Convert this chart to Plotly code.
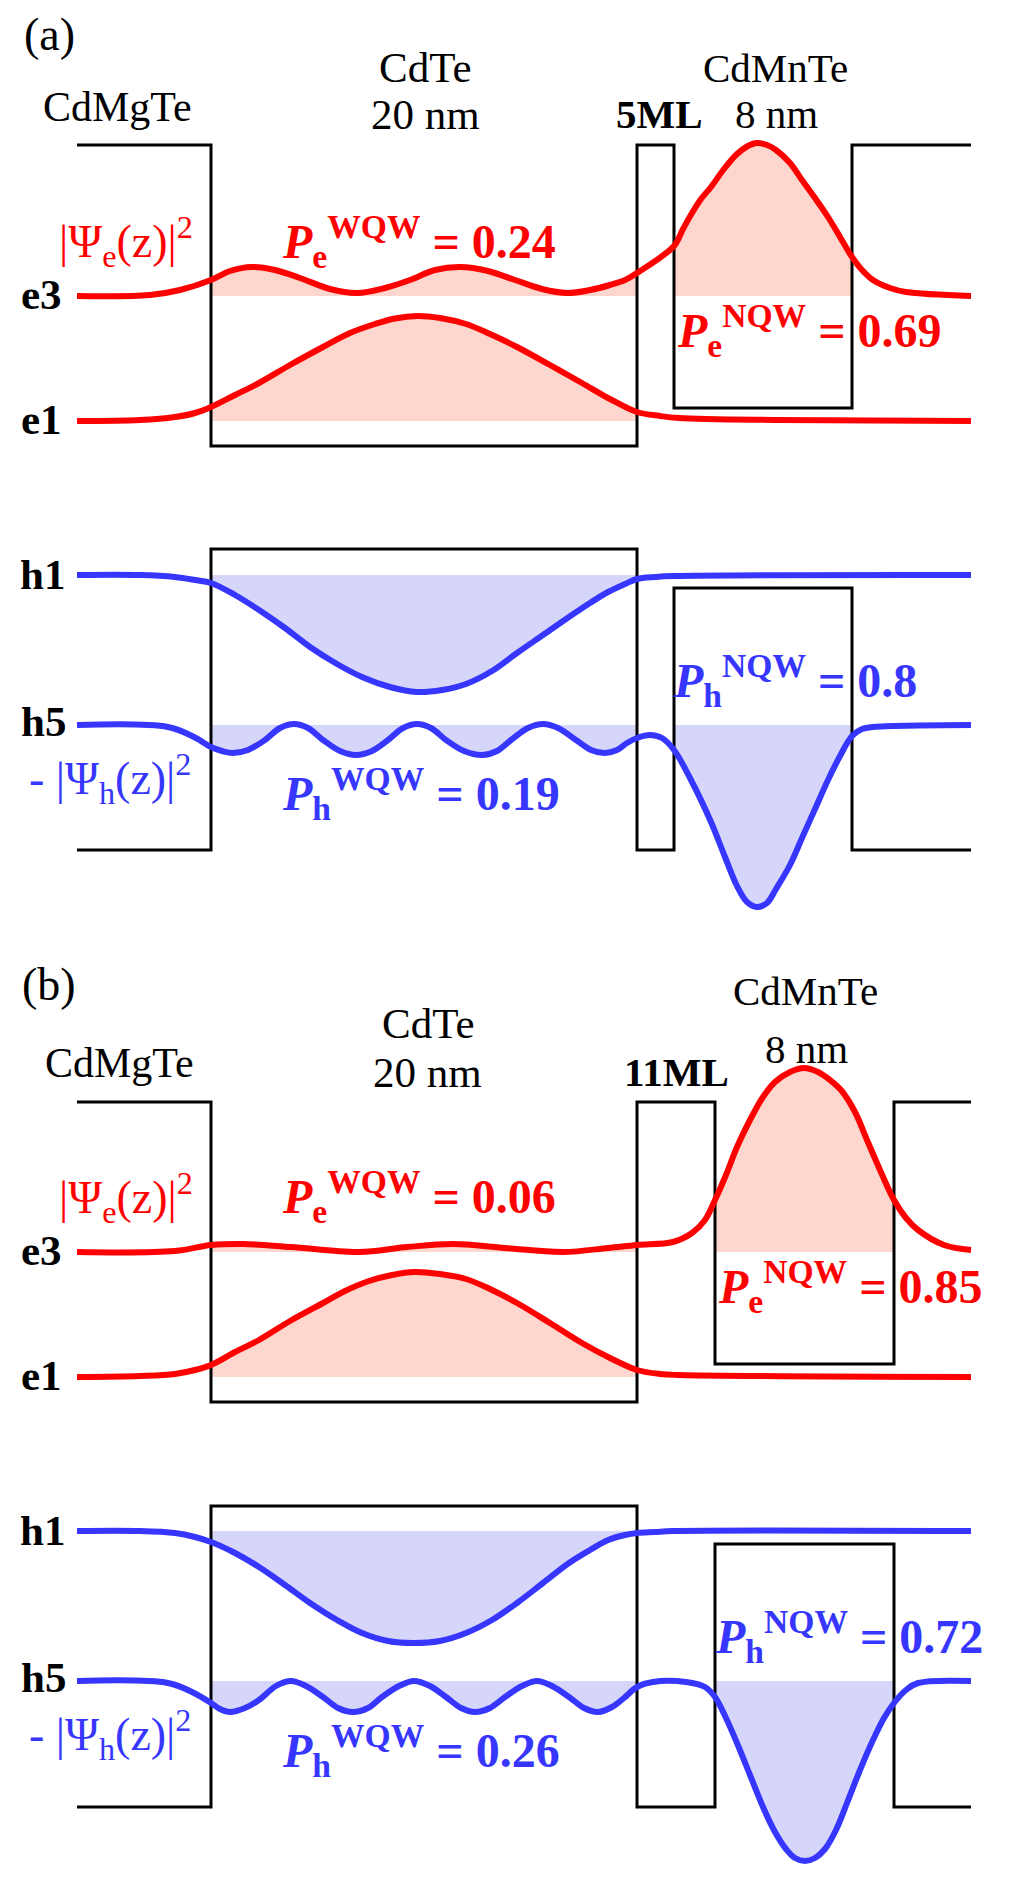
import plotly.graph_objects as go

FONT = "Liberation Serif, Times New Roman, serif"
RED, RED_FILL = "#ff0000", "#fdd6cd"
BLUE, BLUE_FILL = "#3636ff", "#d6d6fa"

# ---------------- layer boundaries along z (axis units) ----------------
Z_A = [77, 211, 637, 674, 852, 971]   # CdMgTe | CdTe | 5ML | CdMnTe | CdMgTe
Z_B = [77, 211, 637, 715, 894, 971]   # CdMgTe | CdTe | 11ML | CdMnTe | CdMgTe

# band edges: [barrier, wide-QW, narrow-QW]   (energy axis units, downward)
A_CB = [145, 446, 408]
A_VB = [850, 549, 588]
B_CB = [1102, 1402, 1364]
B_VB = [1807, 1506, 1544]

# energy levels
A_LEVELS = {"e3": 296, "e1": 421, "h1": 575, "h5": 725}
B_LEVELS = {"e3": 1252, "e1": 1377, "h1": 1531, "h5": 1681}

# ---------------- wavefunction curves (panel a) ----------------
A_E1_Z = [77, 140, 175, 195, 211, 235, 259, 290, 323, 350, 375, 395, 417, 440,
          466, 490, 517, 550, 582, 610, 637, 660, 679, 776, 971]
A_E1_Y = [421, 420, 417, 413, 407, 395, 383, 365, 347, 333, 324, 318.5, 316, 318,
          324, 334, 347, 365, 383, 399, 412, 416, 418, 420, 421]

A_E3_Z = [77, 150, 180, 211, 230, 252, 275, 300, 330, 357, 385, 410, 435, 460,
          488, 515, 542, 567, 590, 610, 625, 637, 674, 683, 692, 701, 711, 724,
          737, 747, 757, 767, 776, 790, 802, 815, 828, 840, 852, 862, 873, 890,
          906, 971]
A_E3_Y = [296, 295, 290, 280, 271, 267, 270, 278, 289, 293, 288, 280, 270, 267,
          271, 280, 289, 293, 290, 285, 280, 273, 246, 229, 213, 199, 187, 169,
          154, 146.5, 143, 145, 150, 163, 180, 198, 217, 237, 257, 270, 280, 288,
          292, 296]

A_H1_Z = [77, 140, 175, 195, 211, 235, 259, 285, 310, 337, 362, 390, 417, 442,
          466, 492, 517, 543, 569, 590, 608, 625, 637, 655, 673, 971]
A_H1_Y = [575, 575, 577, 580, 583, 595, 610, 628, 647, 664, 677, 687, 692, 690,
          684, 671, 653, 635, 617, 603, 592, 584, 579, 577, 576, 575]

A_H5_Z = [77, 168, 194, 211, 222, 233, 248, 265, 280, 294, 308, 323, 340, 356,
          372, 388, 403, 417, 431, 446, 464, 482, 497, 511, 528, 543, 558, 576,
          591, 605, 617, 627, 637, 650, 662, 674, 690, 711, 725, 737, 747, 757,
          767, 776, 790, 802, 815, 828, 840, 852, 862, 873, 971]
A_H5_Y = [725, 727, 737, 747, 751, 753, 750, 740, 728, 724, 728, 740, 751, 755,
          751, 740, 728, 724, 728, 740, 751, 755, 751, 740, 728, 724, 728, 740,
          750, 753, 750, 743, 738, 735, 738, 750, 778, 822, 857, 886, 902, 907,
          903, 889, 865, 838, 809, 780, 756, 736, 729, 727, 725]

# ---------------- wavefunction curves (panel b) ----------------
B_E1_Z = [77, 140, 175, 195, 211, 235, 259, 290, 323, 345, 369, 392, 414, 440,
          466, 490, 517, 550, 582, 610, 637, 660, 679, 971]
B_E1_Y = [1377, 1376, 1374, 1370, 1365, 1352, 1340, 1321, 1303, 1291, 1281, 1275,
          1272, 1274, 1279, 1289, 1303, 1323, 1343, 1358, 1370, 1374, 1375, 1377]

B_E3_Z = [77, 175, 211, 243, 291, 359, 407, 453, 505, 563, 608, 637, 673, 692,
          705, 715, 726, 737, 750, 763, 775, 790, 804, 818, 830, 841, 855, 867,
          880, 894, 906, 918, 944, 971]
B_E3_Y = [1252, 1251, 1245, 1244, 1247, 1252, 1247, 1244, 1248, 1252, 1248, 1245,
          1242, 1233, 1220, 1200, 1175, 1147, 1120, 1097, 1082, 1072, 1068, 1072,
          1080, 1090, 1112, 1140, 1170, 1200, 1218, 1230, 1245, 1250]

B_H1_Z = [77, 140, 175, 195, 211, 235, 259, 285, 310, 337, 362, 388, 413, 440,
          466, 492, 517, 543, 569, 590, 608, 625, 637, 655, 673, 971]
B_H1_Y = [1531, 1531, 1533, 1537, 1542, 1553, 1567, 1585, 1603, 1620, 1633, 1641,
          1643, 1641, 1633, 1620, 1603, 1583, 1563, 1550, 1540, 1535, 1533, 1532,
          1531, 1531]

B_H5_Z = [77, 168, 194, 211, 220, 230, 245, 259, 276, 291, 306, 323, 338, 353,
          368, 382, 399, 414, 430, 446, 461, 475, 490, 505, 522, 537, 552, 569,
          584, 598, 612, 624, 637, 653, 686, 705, 715, 726, 737, 750, 763, 775,
          786, 795, 805, 815, 825, 836, 847, 860, 873, 884, 894, 906, 918, 971]
B_H5_Y = [1681, 1683, 1693, 1703, 1709, 1712, 1708, 1700, 1686, 1681, 1686, 1697,
          1708, 1712, 1708, 1697, 1686, 1681, 1686, 1697, 1708, 1712, 1708, 1697,
          1686, 1681, 1686, 1697, 1708, 1712, 1707, 1698, 1687, 1682, 1682, 1687,
          1697, 1718, 1743, 1775, 1807, 1832, 1849, 1858, 1861, 1858, 1849, 1830,
          1803, 1770, 1740, 1718, 1703, 1690, 1683, 1681]

# probabilities
A_P = {"eW": "0.24", "eN": "0.69", "hW": "0.19", "hN": "0.8"}
B_P = {"eW": "0.06", "eN": "0.85", "hW": "0.26", "hN": "0.72"}

fig = go.Figure()
SMOOTH = 1.0


def fill(zs, ys, level, zl, zr, color):
    pz = [z for z in zs if zl <= z <= zr]
    py = [y for z, y in zip(zs, ys) if zl <= z <= zr]
    fig.add_trace(go.Scatter(x=[zl, zr], y=[level, level], mode="lines",
                             line=dict(width=0, color=color), hoverinfo="skip"))
    fig.add_trace(go.Scatter(x=pz, y=py, mode="lines", fill="tonexty",
                             fillcolor=color,
                             line=dict(width=0, color=color, shape="spline", smoothing=SMOOTH),
                             hoverinfo="skip"))


def band(zb, e):
    bar, w, n = e
    xs = [zb[0], zb[1], zb[1], zb[2], zb[2], zb[3], zb[3], zb[4], zb[4], zb[5]]
    ys = [bar, bar, w, w, bar, bar, n, n, bar, bar]
    fig.add_trace(go.Scatter(x=xs, y=ys, mode="lines",
                             line=dict(color="black", width=3), hoverinfo="skip"))


def curve(zs, ys, color):
    fig.add_trace(go.Scatter(x=zs, y=ys, mode="lines",
                             line=dict(color=color, width=6, shape="spline", smoothing=SMOOTH),
                             hoverinfo="skip"))


panels = [
    (Z_A, A_CB, A_VB, A_LEVELS, (A_E1_Z, A_E1_Y), (A_E3_Z, A_E3_Y), (A_H1_Z, A_H1_Y), (A_H5_Z, A_H5_Y)),
    (Z_B, B_CB, B_VB, B_LEVELS, (B_E1_Z, B_E1_Y), (B_E3_Z, B_E3_Y), (B_H1_Z, B_H1_Y), (B_H5_Z, B_H5_Y)),
]

for zb, cb, vb, lv, e1, e3, h1, h5 in panels:
    fill(*e1, lv["e1"], zb[1], zb[2], RED_FILL)
    fill(*e3, lv["e3"], zb[1], zb[2], RED_FILL)
    fill(*e3, lv["e3"], zb[3], zb[4], RED_FILL)
    fill(*h1, lv["h1"], zb[1], zb[2], BLUE_FILL)
    fill(*h5, lv["h5"], zb[1], zb[2], BLUE_FILL)
    fill(*h5, lv["h5"], zb[3], zb[4], BLUE_FILL)

for zb, cb, vb, lv, *_ in panels:
    band(zb, cb)
    band(zb, vb)

for zb, cb, vb, lv, e1, e3, h1, h5 in panels:
    curve(*e1, RED)
    curve(*e3, RED)
    curve(*h1, BLUE)
    curve(*h5, BLUE)


def label(text, x, baseline, size, color="black", anchor="left"):
    fig.add_annotation(x=x, y=baseline - 0.34 * size, xref="x", yref="y", text=text,
                       showarrow=False, xanchor=anchor, yanchor="middle",
                       font=dict(family=FONT, size=size, color=color))


def P(sub, sup, val):
    return f"<b><i>P</i><sub>{sub}</sub><sup>{sup}</sup> = {val}</b>"


PSI_E = "|Ψ<sub>e</sub>(z)|<sup>2</sup>"
PSI_H = "- |Ψ<sub>h</sub>(z)|<sup>2</sup>"

# ---- panel (a) texts ----
label("(a)", 22, 50, 46)
label("CdMgTe", 117, 121, 42, anchor="center")
label("CdTe", 425, 82, 43, anchor="center")
label("20 nm", 425, 129, 43, anchor="center")
label("CdMnTe", 775, 82, 41, anchor="center")
label("8 nm", 776, 128, 41, anchor="center")
label("<b>5ML</b>", 659, 128, 41, anchor="center")
label("<b>e3</b>", 19, A_LEVELS["e3"] + 13, 43)
label("<b>e1</b>", 19, A_LEVELS["e1"] + 13, 43)
label("<b>h1</b>", 18, A_LEVELS["h1"] + 14, 43)
label("<b>h5</b>", 19, A_LEVELS["h5"] + 11, 43)
label(PSI_E, 57, 257, 46, RED)
label(PSI_H, 27, 794, 46, BLUE)
label(P("e", "WQW", A_P["eW"]), 280, 258, 48, RED)
label(P("e", "NQW", A_P["eN"]), 675, 347, 48, RED)
label(P("h", "WQW", A_P["hW"]), 280, 810, 48, BLUE)
label(P("h", "NQW", A_P["hN"]), 671, 697, 48, BLUE)

# ---- panel (b) texts ----
label("(b)", 20, 1000, 46)
label("CdMgTe", 119, 1077, 42, anchor="center")
label("CdTe", 428, 1038, 43, anchor="center")
label("20 nm", 427, 1087, 43, anchor="center")
label("CdMnTe", 805, 1005, 41, anchor="center")
label("8 nm", 806, 1063, 41, anchor="center")
label("<b>11ML</b>", 676, 1086, 41, anchor="center")
label("<b>e3</b>", 19, B_LEVELS["e3"] + 13, 43)
label("<b>e1</b>", 19, B_LEVELS["e1"] + 13, 43)
label("<b>h1</b>", 18, B_LEVELS["h1"] + 14, 43)
label("<b>h5</b>", 19, B_LEVELS["h5"] + 11, 43)
label(PSI_E, 57, 1213, 46, RED)
label(PSI_H, 27, 1750, 46, BLUE)
label(P("e", "WQW", B_P["eW"]), 280, 1213, 48, RED)
label(P("e", "NQW", B_P["eN"]), 716, 1303, 48, RED)
label(P("h", "WQW", B_P["hW"]), 280, 1767, 48, BLUE)
label(P("h", "NQW", B_P["hN"]), 713, 1653, 48, BLUE)

# The page body has an 8px margin: size the figure so that the page is exactly
# 1016x1888 and shift the axis ranges so axis units equal page pixels.
PAGE_W, PAGE_H, BODY = 1016, 1888, 8
fig.update_layout(
    width=PAGE_W - 2 * BODY, height=PAGE_H - 2 * BODY, autosize=False,
    margin=dict(l=0, r=0, t=0, b=0, pad=0),
    paper_bgcolor="white", plot_bgcolor="white",
    showlegend=False,
    xaxis=dict(range=[BODY, PAGE_W - BODY], visible=False, fixedrange=True),
    yaxis=dict(range=[PAGE_H - BODY, BODY], visible=False, fixedrange=True),
)

fig.write_html("out.html")
